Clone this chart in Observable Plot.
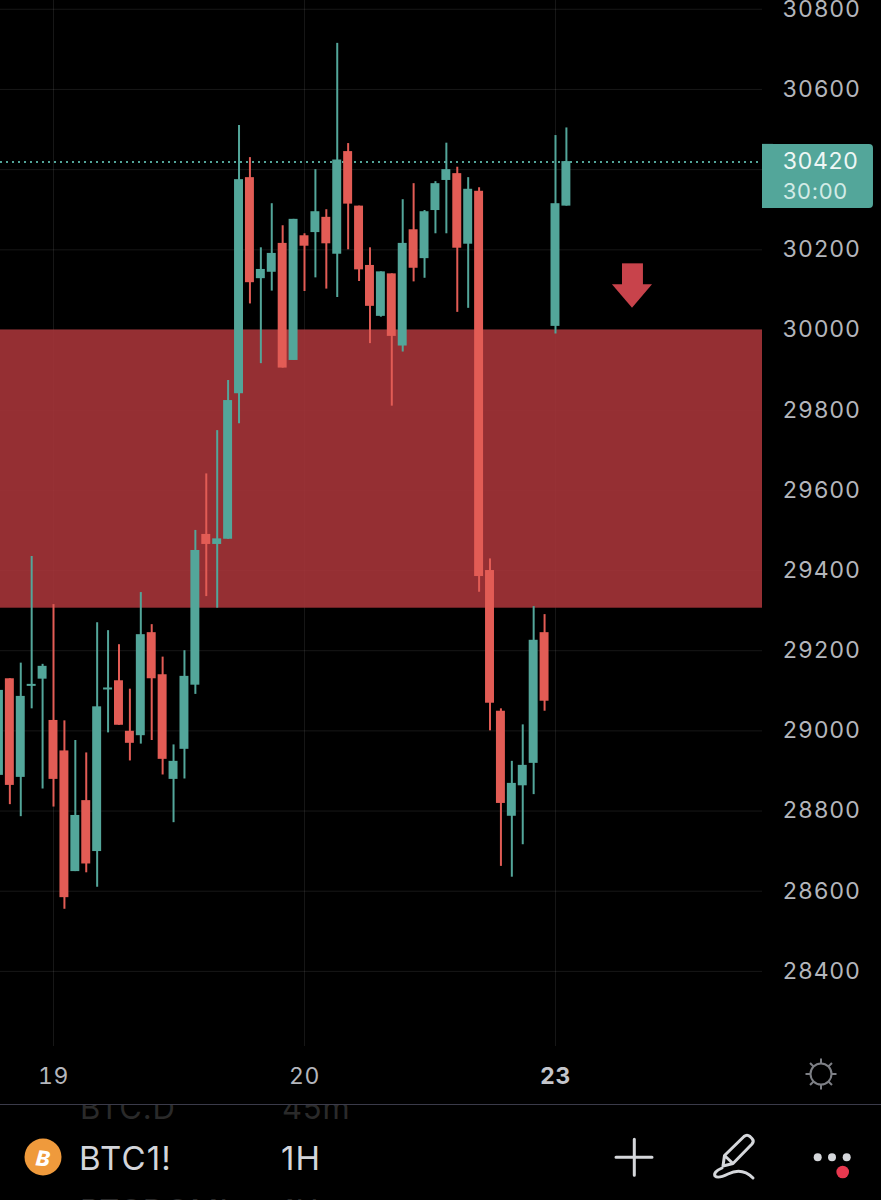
<!DOCTYPE html>
<html>
<head>
<meta charset="utf-8">
<script src="https://cdn.jsdelivr.net/npm/d3@7"></script>
<script src="https://cdn.jsdelivr.net/npm/@observablehq/plot@0.6"></script>
<style>
html,body{margin:0;padding:0;background:#000;}
#page{position:relative;width:881px;height:1200px;overflow:hidden;background:#000;}
#page svg text{letter-spacing:.7px;}
#footer{position:absolute;left:0;top:1104px;width:881px;height:96px;overflow:hidden;border-top:1px solid #3b3b4a;box-sizing:border-box;font-family:Inter,"Noto Sans",sans-serif;}
#footer span{position:absolute;white-space:nowrap;line-height:1;}
.main{font-size:33px;color:#d3d5da;top:37px;letter-spacing:1.2px;}
.ghost{font-size:31px;color:#2a2a2a;letter-spacing:.8px;}
#sun{position:absolute;left:801px;top:1054px;}
#icons{position:absolute;left:0;top:-1px;}
</style>
</head>
<body>
<div id="page"></div>
<script>
const teal = "#53a69a", red = "#e25c55";
// Bar number: 0 is the first bar of day 19, one bar per trading hour
const bars  = [-5,-4,-3,-2,-1,0,1,2,3,4,5,6,7,8,9,10,11,12,13,14,15,16,17,18,19,20,21,22,23,24,25,26,27,28,29,30,31,32,33,34,35,36,37,38,39,40,41,42,43,44,45,46,47];
const opens = [28889,29130,28884,29111,29129,29026,28950,28649,28826,28699,29102,29125,28999,28988,29245,29140,28879,28954,29114,29490,29465,29478,29841,30380,30128,30144,30216,29924,30235,30243,30281,30189,30445,30309,30161,30034,30140,29960,30250,30178,30298,30373,30390,30214,30346,29400,29049,28787,28863,28919,29245,30009,30309];
const closes= [29101,28864,29086,29116,29161,28879,28584,28789,28668,29060,29107,29014,28969,29240,29130,28929,28924,29136,29450,29465,29479,29824,30375,30118,30151,30191,29905,30276,30209,30295,30215,30424,30314,30150,30059,30145,29984,30216,30154,30295,30365,30400,30204,30351,29385,29069,28819,28869,28914,29226,29074,30315,30420];
const highs = [29150,29130,29169,29435,29166,29315,29025,28976,28945,29270,29250,29215,29104,29345,29265,29184,28965,29200,29500,29641,29749,29874,30510,30430,30205,30315,30260,30276,30240,30400,30300,30715,30465,30309,30205,30145,30140,30325,30365,30298,30370,30466,30406,30380,30355,29429,29055,28924,29015,29310,29290,30485,30504];
const lows  = [28850,28816,28786,29055,28855,28810,28555,28649,28646,28610,28995,29014,28925,28967,28976,28890,28771,28880,29091,29335,29306,29478,29766,30065,29916,30097,29905,29924,30096,30130,30102,30081,30200,30121,29966,30032,29810,29945,30120,30129,30240,30240,30044,30054,29346,29000,28662,28635,28716,28841,29049,29990,30309];
const priceTicks = [28400,28600,28800,29000,29200,29400,29600,29800,30000,30200,30400,30600,30800];
const dayBars = [0,23,46];
const dayLabels = ["19","20","23"];
const zoneLow = 29306, zoneHigh = 30000;
const lastPrice = 30420, lastPriceLine = 30419, countdown = "30:00";
const yDomain = [28212.7, 30821.9];
const xDomain = [-4.857, 64.97];
// Price tag and down arrow annotations, in bar / price units
const tagBars = [64.97, 75.14], tagPrices = [30303, 30463], tagTextBar = 66.98, tagTextPrices = [30420, 30345];
const shaftBars = [52.14, 54.06], shaftPrices = [30110, 30165];
const headBars = [51.22, 53.06, 54.89], headTop = [30113, 30113, 30113], headTip = [30113, 30054, 30113];

const candles = bars.map((b,i)=>({b,o:opens[i],c:closes[i],h:highs[i],l:lows[i],col:closes[i]>=opens[i]?teal:red}));
const head = headBars.map((b,i)=>({b,y1:headTop[i],y2:headTip[i]}));
const font = 'Inter,"Noto Sans",sans-serif';
const gridCol = "#fff", gridOp = 0.09;
const halfBody = 0.41;

const chart = Plot.plot({
  width: 881, height: 1104,
  marginLeft: 0, marginRight: 119, marginTop: 0, marginBottom: 58,
  x: {domain: xDomain, axis: null},
  y: {domain: yDomain, axis: null},
  color: {type: "identity"},
  style: {background: "#000", fontFamily: font, fontSize: "23px", color: "#b4b6bc"},
  marks: [
    Plot.ruleY(priceTicks,{stroke:gridCol,strokeOpacity:gridOp,strokeWidth:1}),
    Plot.ruleX(dayBars,{stroke:gridCol,strokeOpacity:gridOp,strokeWidth:1}),
    Plot.rectY([0],{x1:xDomain[0],x2:xDomain[1],y1:zoneLow,y2:zoneHigh,fill:"#a53438",fillOpacity:0.9}),
    Plot.ruleY([lastPriceLine],{x1:xDomain[0],x2:xDomain[1],stroke:teal,strokeWidth:2,strokeDasharray:"2 4"}),
    Plot.ruleX(candles,{x:"b",y1:"l",y2:"h",stroke:"col",strokeWidth:2}),
    Plot.rect(candles,{x1:d=>d.b-halfBody,x2:d=>d.b+halfBody,y1:"o",y2:"c",fill:"col"}),
    Plot.rect([0],{x1:shaftBars[0],x2:shaftBars[1],y1:shaftPrices[0],y2:shaftPrices[1],fill:"#c8434b"}),
    Plot.areaY(head,{x:"b",y1:"y1",y2:"y2",fill:"#c8434b"}),
    Plot.rect([0],{x1:tagBars[0],x2:tagBars[1],y1:tagPrices[0],y2:tagPrices[1],fill:teal,rx:4}),
    Plot.rect([0],{x1:tagBars[0],x2:tagBars[0]+1,y1:tagPrices[0],y2:tagPrices[1],fill:teal}),
    Plot.text([lastPrice+""],{x:tagTextBar-0.15,y:tagTextPrices[0],text:d=>d,textAnchor:"start",fill:"#eef7f5",fontSize:23}),
    Plot.text([countdown],{x:tagTextBar-0.15,y:tagTextPrices[1],text:d=>d,textAnchor:"start",fill:"#d2ebe6",fontSize:22}),
    Plot.axisY(priceTicks,{anchor:"right",tickSize:0,tickPadding:20,tickFormat:d=>String(d),fill:"#b4b6bc",fontSize:23,label:null,
      filter:d=>d!==30400}),
    Plot.axisX(dayBars.slice(0,2),{anchor:"bottom",tickSize:0,tickPadding:21,tickFormat:d=>dayLabels[dayBars.indexOf(d)],fill:"#b4b6bc",fontSize:23,label:null}),
    Plot.axisX(dayBars.slice(2),{anchor:"bottom",tickSize:0,tickPadding:21,tickFormat:d=>dayLabels[dayBars.indexOf(d)],fill:"#c4c6cc",fontSize:23,fontWeight:"bold",label:null})
  ]
});
const page = document.getElementById("page");
page.appendChild(chart);

const rays = d3.range(8).map(k=>{const a=k*Math.PI/4,c=Math.cos(a),s=Math.sin(a);
  return `<line x1="${20+c*10.5}" y1="${20+s*10.5}" x2="${20+c*15.5}" y2="${20+s*15.5}"/>`;}).join("");
page.insertAdjacentHTML("beforeend",`<svg id="sun" width="40" height="40" stroke="#7d7f85" stroke-width="2" fill="none"><circle cx="20" cy="20" r="10.5"/>${rays}</svg>`);
page.insertAdjacentHTML("beforeend",`<div id="footer">
<span class="ghost" style="left:80px;top:-13px">BTC.D</span>
<span class="ghost" style="left:282px;top:-13px">45m</span>
<svg id="icons" width="881" height="96" viewBox="0 1104 881 96" fill="none">
  <circle cx="43" cy="1157" r="18.5" fill="#ef9a3c"/>
  <path d="M616 1157.3H652M634.3 1139.3V1175.3" stroke="#d5d7db" stroke-width="3" stroke-linecap="round"/>
  <path d="M723 1166L724.5 1155.5L744 1136.5Q747 1134 750 1136.5L752 1138.5Q754.5 1141 752 1144L733 1163.5ZM724.5 1155.5L733 1163.5" stroke="#d5d7db" stroke-width="3" stroke-linejoin="round"/>
  <path d="M722 1168Q713 1172 715 1176Q718 1179 728 1174Q742 1167 753 1178" stroke="#d5d7db" stroke-width="3" stroke-linecap="round"/>
  <circle cx="817.7" cy="1157.3" r="4" fill="#d5d7db"/><circle cx="832" cy="1157.3" r="4" fill="#d5d7db"/><circle cx="846.7" cy="1157.3" r="4" fill="#d5d7db"/>
  <circle cx="842.7" cy="1172" r="6.3" fill="#e8384f"/>
</svg>
<span style="left:35.5px;top:43px;font-size:21px;font-weight:800;font-style:italic;color:#fff;transform:rotate(6deg)">B</span>
<span class="main" style="left:79px">BTC1!</span>
<span class="main" style="left:281px">1H</span>
<span class="ghost" style="left:80px;top:90px">BTCDOM!</span>
<span class="ghost" style="left:282px;top:90px">1H</span>
</div>`);
</script>
</body>
</html>
